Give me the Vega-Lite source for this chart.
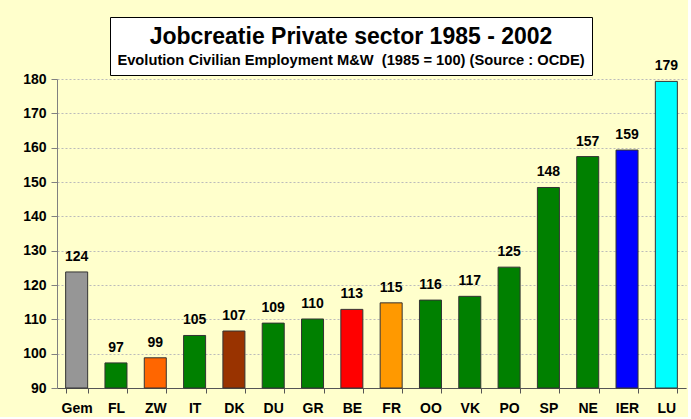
{
  "$schema": "https://vega.github.io/schema/vega-lite/v6.json",
  "background": "#FFFFCC",
  "padding": {"left": 22, "top": 16, "right": 2, "bottom": 2},
  "spacing": -17,
  "config": {"font": "Liberation Sans", "view": {"stroke": null}},
  "vconcat": [
    {
      "spacing": 0,
      "hconcat": [
        {
          "width": 52,
          "height": 58,
          "data": {"values": []},
          "mark": "text",
          "encoding": {}
        },
        {
          "width": 482,
          "height": 58,
          "view": {"fill": "white", "stroke": "black", "strokeWidth": 1},
          "layer": [
            {
              "data": {"values": [{"t": "Jobcreatie Private sector 1985 - 2002"}]},
              "mark": {"type": "text", "fontSize": 23, "fontWeight": "bold", "dy": -9, "color": "black"},
              "encoding": {"text": {"field": "t"}}
            },
            {
              "data": {"values": [{"t": "Evolution Civilian Employment M&W \u00a0(1985 = 100) (Source : OCDE)"}]},
              "mark": {"type": "text", "fontSize": 14.7, "fontWeight": "bold", "dy": 15, "color": "black"},
              "encoding": {"text": {"field": "t"}}
            }
          ]
        }
      ]
    },
    {
      "width": 629,
      "height": 309,
      "data": {"values": [
        {"c": "Gem", "v": 123.8},
        {"c": "FL", "v": 97.3},
        {"c": "ZW", "v": 98.8},
        {"c": "IT", "v": 105.3},
        {"c": "DK", "v": 106.6},
        {"c": "DU", "v": 108.9},
        {"c": "GR", "v": 110.1},
        {"c": "BE", "v": 112.9},
        {"c": "FR", "v": 114.8},
        {"c": "OO", "v": 115.6},
        {"c": "VK", "v": 116.7},
        {"c": "PO", "v": 125.2},
        {"c": "SP", "v": 148.4},
        {"c": "NE", "v": 157.4},
        {"c": "IER", "v": 159.3},
        {"c": "LU", "v": 179.3}
      ]},
      "encoding": {
        "x": {
          "field": "c", "type": "nominal", "sort": null,
          "scale": {"paddingInner": 0.44, "paddingOuter": 0.22},
          "axis": {"title": null, "labelAngle": 0, "labelFontSize": 14, "labelFontWeight": "bold", "labelColor": "black",
                   "tickBand": "extent", "tickSize": 5, "tickColor": "#555555", "domainColor": "#555555", "labelPadding": 8}
        },
        "y": {
          "field": "v", "type": "quantitative",
          "scale": {"domain": [90, 180], "zero": false, "nice": false},
          "axis": {"title": null, "values": [90, 100, 110, 120, 130, 140, 150, 160, 170, 180],
                   "labelFontSize": 14, "labelFontWeight": "bold", "labelColor": "black", "labelPadding": 5,
                   "tickSize": 6, "tickColor": "#808080", "domainColor": "#808080",
                   "grid": true, "gridColor": "#BBBBBB", "gridDash": [2, 2]}
        }
      },
      "layer": [
        {
          "mark": {"type": "bar", "stroke": "#333333", "strokeWidth": 1},
          "encoding": {
            "y2": {"datum": 90},
            "color": {
              "field": "c", "type": "nominal", "legend": null,
              "scale": {
                "domain": ["Gem", "FL", "ZW", "IT", "DK", "DU", "GR", "BE", "FR", "OO", "VK", "PO", "SP", "NE", "IER", "LU"],
                "range": ["#969696", "#008000", "#FF6600", "#008000", "#993300", "#008000", "#008000", "#FF0000", "#FF9900", "#008000", "#008000", "#008000", "#008000", "#008000", "#0000FF", "#00FFFF"]
              }
            }
          }
        },
        {
          "mark": {"type": "text", "fontSize": 14, "fontWeight": "bold", "baseline": "bottom", "dy": -8, "color": "black"},
          "encoding": {"text": {"field": "v", "type": "quantitative", "format": ".0f"}}
        }
      ]
    }
  ]
}
